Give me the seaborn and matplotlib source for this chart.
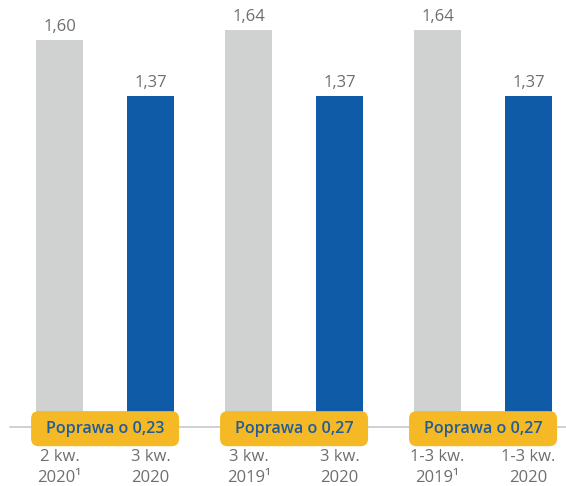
import matplotlib
matplotlib.use("Agg")
import matplotlib.pyplot as plt
from matplotlib.patches import FancyBboxPatch
import seaborn as sns
import pandas as pd

# ---- data ----
groups = ["G1", "G2", "G3"]
periods = ["prev", "curr"]
prev_values = [1.60, 1.64, 1.64]
curr_values = [1.37, 1.37, 1.37]
prev_labels = ["2 kw.\n2020\u00b9", "3 kw.\n2019\u00b9", "1-3 kw.\n2019\u00b9"]
curr_labels = ["3 kw.\n2020", "3 kw.\n2020", "1-3 kw.\n2020"]
badge_prefix = "Poprawa o "

rows = []
for g, p, c in zip(groups, prev_values, curr_values):
    rows.append({"group": g, "period": "prev", "value": p})
    rows.append({"group": g, "period": "curr", "value": c})
df = pd.DataFrame(rows)

sns.set_style("white")
plt.rcParams["font.family"] = ["Open Sans", "DejaVu Sans"]

GREY = "#D0D2D1"
BLUE = "#105BA8"
YELLOW = "#F5B925"
BADGE_TXT = "#1F5C9C"
LABEL = "#6E6E6E"

fig = plt.figure(figsize=(5.66, 4.86), dpi=100)
ax = fig.add_axes([0, 0, 1, 1])

sns.barplot(data=df, x="group", y="value", hue="period", order=groups,
            hue_order=periods, palette={"prev": GREY, "curr": BLUE},
            dodge=True, width=0.963, gap=0.48, legend=False, ax=ax,
            saturation=1, linewidth=0, edgecolor="none")

ax.set_xlim(-0.556, 2.439)
ax.set_ylim(-0.244, 1.765)
ax.axis("off")

# baseline
ax.axhline(0, xmin=10 / 566, xmax=1, color="#C8C8C8", lw=1.2, zorder=1)

off = 0.2407
for i, (p, c) in enumerate(zip(prev_values, curr_values)):
    for x, v in ((i - off, p), (i + off, c)):
        ax.annotate(f"{v:.2f}".replace(".", ","), (x, v), xytext=(0, 6.5),
                    textcoords="offset points", ha="center", va="baseline",
                    fontsize=12, color=LABEL)
    # badge
    bw, bh = 0.783, 0.145
    patch = FancyBboxPatch((i - bw / 2, -0.007 - bh / 2), bw, bh,
                           boxstyle="round,pad=0,rounding_size=0.04",
                           mutation_aspect=0.78, facecolor=YELLOW,
                           edgecolor="none", zorder=5)
    ax.add_patch(patch)
    diff = f"{p - c:.2f}".replace(".", ",")
    ax.text(i, -0.007, badge_prefix + diff, ha="center", va="center",
            fontsize=11.6, color=BADGE_TXT, fontweight="semibold", zorder=6)
    # category labels
    for x, lab in ((i - off, prev_labels[i]), (i + off, curr_labels[i])):
        l1, l2 = lab.split("\n")
        ax.text(x, -0.125, l1, ha="center", va="center", fontsize=12,
                color=LABEL)
        ax.text(x, -0.21, l2, ha="center", va="center", fontsize=12,
                color=LABEL)

fig.savefig("out.png", dpi=100)
